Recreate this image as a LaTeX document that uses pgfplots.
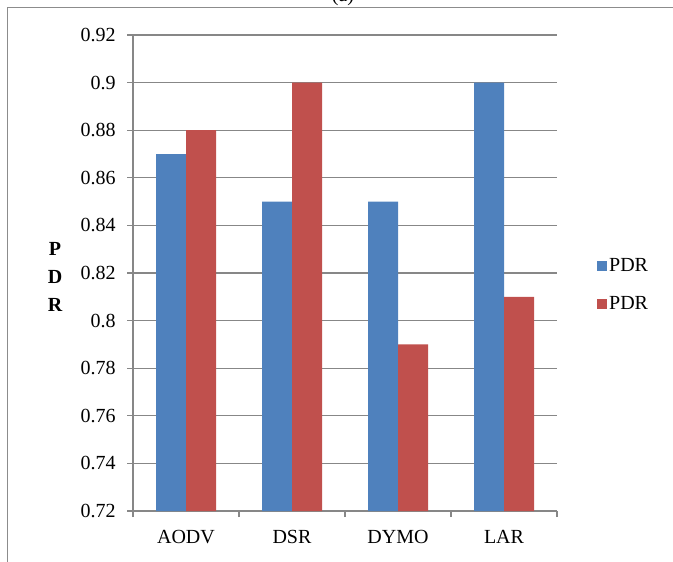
\documentclass[border=0pt]{standalone}
\usepackage{pgfplots}
\pgfplotsset{compat=1.18}
\usepackage{fontspec}
\setmainfont{Liberation Serif}

\definecolor{barblue}{HTML}{4F81BD}
\definecolor{barred}{HTML}{C0504D}
\definecolor{linegray}{HTML}{878787}
\definecolor{framegray}{HTML}{8C8C8C}

\newcommand{\chartfont}{\fontsize{15}{18}\selectfont}

\begin{document}
\begin{tikzpicture}
  % page size and the outer frame
  \useasboundingbox (0,0) rectangle (504.75pt,-420.75pt);
  \draw[framegray, line width=0.8pt] (5.5pt,-425pt) -- (5.5pt,-5.5pt) -- (510pt,-5.5pt);
  \node[anchor=base, font=\chartfont, inner sep=0pt] at (257.25pt,-1pt) {(a)};

  \begin{axis}[
      scale only axis,
      width=318pt, height=357pt,
      at={(99.75pt,-383.25pt)}, anchor=south west,
      xmin=-0.5, xmax=3.5,
      ymin=0.72, ymax=0.92,
      ytick={0.72,0.74,0.76,0.78,0.80,0.82,0.84,0.86,0.88,0.90,0.92},
      xtick={0,1,2,3},
      xticklabels={AODV,DSR,DYMO,LAR},
      minor xtick={-0.5,0.5,1.5,2.5,3.5},
      axis x line*=bottom,
      axis y line*=left,
      axis line style={linegray, line width=0.9pt},
      ymajorgrids,
      grid style={linegray, line width=0.9pt},
      tick align=outside,
      major tick length=4.5pt,
      minor tick length=4.5pt,
      x tick style={draw=none},
      minor x tick style={draw=linegray, line width=0.9pt},
      y tick style={linegray, line width=0.9pt},
      tick label style={font=\chartfont},
      yticklabel style={xshift=-5pt},
      xticklabel style={yshift=-6.5pt},
      /pgf/number format/assume math mode=true,
      /pgf/number format/fixed,
      /pgf/number format/precision=2,
      ylabel={P\\D\\R},
      ylabel style={at={(rel axis cs:-0.184,0.4916)}, anchor=center,
                    rotate=-90, align=center,
                    font=\bfseries\fontsize{15}{21}\selectfont},
      ybar=0pt,
      bar width=22.5pt,
      clip=true,
      legend style={at={(rel axis cs:1.094,0.475)}, anchor=west,
                    draw=none, fill=none, font=\chartfont,
                    row sep=14pt, inner sep=0pt,
                    nodes={inner sep=1.5pt}},
      legend cell align=left,
      legend image code/.code={\fill[#1] (0pt,-3.75pt) rectangle (7.5pt,3.75pt);},
    ]
    \addplot[fill=barblue, draw=none] coordinates {(0,0.87) (1,0.85) (2,0.85) (3,0.90)};
    \addplot[fill=barred, draw=none] coordinates {(0,0.88) (1,0.90) (2,0.79) (3,0.81)};
    \legend{PDR,PDR}
  \end{axis}
\end{tikzpicture}
\end{document}
